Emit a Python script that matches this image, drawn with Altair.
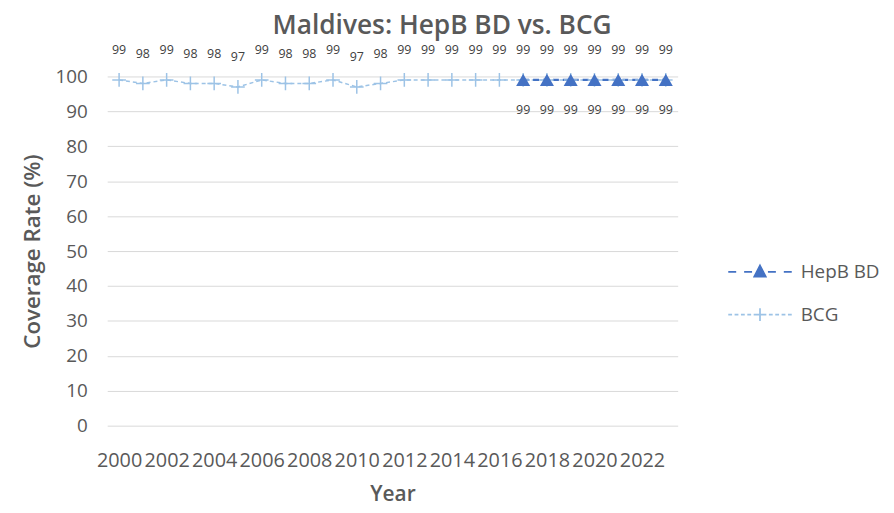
import altair as alt
import pandas as pd

years = [2000, 2001, 2002, 2003, 2004, 2005, 2006, 2007, 2008, 2009, 2010, 2011,
         2012, 2013, 2014, 2015, 2016, 2017, 2018, 2019, 2020, 2021, 2022, 2023]
bcg = [99, 98, 99, 98, 98, 97, 99, 98, 98, 99, 97, 98,
       99, 99, 99, 99, 99, 99, 99, 99, 99, 99, 99, 99]
hepb_years = [2017, 2018, 2019, 2020, 2021, 2022, 2023]
hepb = [99, 99, 99, 99, 99, 99, 99]
tick_years = [2000, 2002, 2004, 2006, 2008, 2010, 2012, 2014, 2016, 2018, 2020, 2022]

series_names = ["HepB BD", "BCG"]
series_colors = ["#4472C4", "#9DC3E6"]

df = pd.concat([
    pd.DataFrame({"Year": hepb_years, "Value": hepb, "Series": "HepB BD"}),
    pd.DataFrame({"Year": years, "Value": bcg, "Series": "BCG"}),
], ignore_index=True)

FONT = "Open Sans"
GREY = "#595959"

HEPB_SYM = "M-1,0H-0.75M-0.5,0H-0.25M0.25,0H0.5M0.75,0H1M0,-0.2L0.18,0.15L-0.18,0.15Z"
BCG_SYM = ("M-1,0H-0.88M-0.8,0H-0.68M-0.6,0H-0.48M-0.4,0H-0.28M-0.2,0H0.2M0,-0.2V0.2"
           "M0.28,0H0.4M0.48,0H0.6M0.68,0H0.8M0.88,0H1")

color_scale = alt.Scale(domain=series_names, range=series_colors)
shape_scale = alt.Scale(domain=series_names, range=[HEPB_SYM, BCG_SYM])

legend = alt.Legend(
    orient="none",
    legendX=625,
    legendY=164,
    symbolSize=4096,
    symbolStrokeWidth=1.8,
    labelFont=FONT,
    labelFontSize=19,
    labelColor=GREY,
    labelOffset=8,
    rowPadding=-24,
)

x_enc = alt.X(
    "Year:O",
    scale=alt.Scale(type="point", padding=0.5),
    axis=alt.Axis(
        values=tick_years,
        labelAngle=0,
        labelFont=FONT,
        labelFontSize=20,
        labelColor=GREY,
        labelPadding=25,
        labelOverlap=False,
        ticks=False,
        domain=False,
        grid=False,
        title="Year",
        titleFont=FONT,
        titleFontSize=21,
        titleFontWeight=600,
        titleColor=GREY,
        titlePadding=13,
    ),
)
y_enc = alt.Y(
    "Value:Q",
    scale=alt.Scale(domain=[0, 100]),
    axis=alt.Axis(
        values=[0, 10, 20, 30, 40, 50, 60, 70, 80, 90, 100],
        labelFont=FONT,
        labelFontSize=19,
        labelColor=GREY,
        labelPadding=20,
        ticks=False,
        domain=False,
        gridColor="#D9D9D9",
        gridWidth=1,
        title="Coverage Rate (%)",
        titleFont=FONT,
        titleFontSize=22.5,
        titleFontWeight=600,
        titleColor=GREY,
        titlePadding=11,
    ),
)
color_enc = alt.Color("Series:N", scale=color_scale, legend=None)

base = alt.Chart(df)

bcg_line = base.transform_filter(alt.datum.Series == "BCG").mark_line(
    strokeWidth=1.5, strokeDash=[4, 3]
).encode(x=x_enc, y=y_enc, color=color_enc)

hepb_line = base.transform_filter(alt.datum.Series == "HepB BD").mark_line(
    strokeWidth=2.2, strokeDash=[6, 4]
).encode(x=x_enc, y=y_enc, color=color_enc)

bcg_pts = base.transform_filter(alt.datum.Series == "BCG").mark_point(
    shape="M-1,0H1M0,-1V1", filled=False, size=190, strokeWidth=1.5, opacity=1
).encode(x=x_enc, y=y_enc, color=color_enc)

hepb_pts = base.transform_filter(alt.datum.Series == "HepB BD").mark_point(
    shape="triangle-up", filled=True, size=200, opacity=1
).encode(x=x_enc, y=y_enc, color=color_enc)

bcg_text = base.transform_filter(alt.datum.Series == "BCG").mark_text(
    dy=-30, font=FONT, fontSize=12.5, color="#404040"
).encode(x=x_enc, y=y_enc, text="Value:Q")

hepb_text = base.transform_filter(alt.datum.Series == "HepB BD").mark_text(
    dy=30, font=FONT, fontSize=12.5, color="#404040"
).encode(x=x_enc, y=y_enc, text="Value:Q")

# layer that only carries the legend (its tiny points sit under the real markers)
legend_layer = base.mark_point(opacity=1, size=1, strokeWidth=0).encode(
    x=x_enc,
    y=y_enc,
    fill=alt.Fill("Series:N", scale=color_scale, legend=legend, title=""),
    stroke=alt.Stroke("Series:N", scale=color_scale, legend=legend, title=""),
    shape=alt.Shape("Series:N", scale=shape_scale, legend=legend, title=""),
)

chart = alt.layer(
    legend_layer, bcg_line, hepb_line, bcg_pts, hepb_pts, bcg_text, hepb_text
).properties(
    width=575,
    height=352,
    autosize=alt.AutoSizeParams(type="none"),
    padding={"left": 100, "top": 67, "right": 210, "bottom": 82},
    title=alt.TitleParams(
        "Maldives: HepB BD vs. BCG",
        font=FONT,
        fontSize=26.5,
        fontWeight=600,
        color=GREY,
        anchor="middle",
        dx=50,
        offset=5,
    ),
).resolve_scale(shape="independent", fill="independent", stroke="independent").configure_view(stroke=None)

chart.save("out.html", embed_options={"renderer": "svg", "actions": False})
